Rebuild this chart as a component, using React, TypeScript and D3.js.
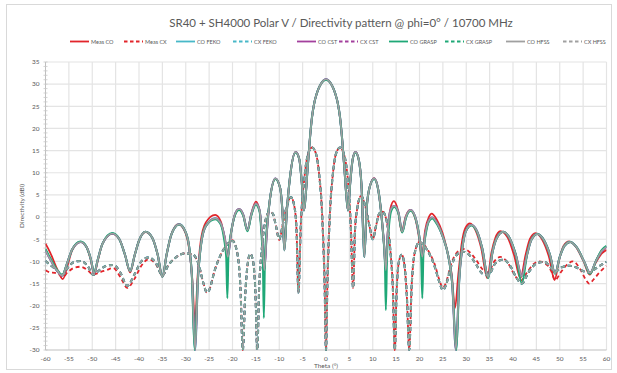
import React, { useEffect, useRef } from 'react';
import * as d3 from 'd3';

type Pt = [number, number];

// theta (deg), directivity (dBi)
const measCO: Pt[] = [
  [-60, -6], [-59, -8], [-57.6, -11.5], [-56.3, -14], [-55.3, -11], [-54.3, -7.5], [-52.5, -5.6], [-51.2, -6.8], [-50.3, -9.8],
  [-49.6, -13], [-48.8, -9.8], [-47.8, -6], [-45.7, -3.8], [-44.2, -5], [-43, -8.5], [-41.9, -12.5], [-40.9, -8.5], [-40, -5.3],
  [-38.6, -3.4], [-37.2, -4.6], [-36, -8.5], [-35, -13.5], [-34.1, -8.5], [-33.1, -4], [-31.6, -1.6], [-30.3, -3], [-29.3, -7],
  [-28.6, -14], [-28, -24], [-27.5, -14], [-26.8, -5.5], [-25.7, -1.2], [-23.7, 0.5], [-22.5, -1], [-21.7, -4.5], [-21, -8.5],
  [-20.3, -3.5], [-19.5, 0.5], [-18.6, 1.8], [-17.7, 0.5], [-16.8, -3], [-16, 0.7], [-15, 3.5], [-14.2, 1.5], [-13.7, -4],
  [-13.2, -12], [-12.7, -4], [-12, 4], [-10.8, 8.7], [-9.8, 6.5], [-9.3, 1], [-8.9, -7], [-8.4, 1], [-7.7, 9], [-6.5, 14.7],
  [-5.7, 13], [-5.2, 8], [-4.7, 1.5], [-4.3, 5.5], [-4, 10], [-3.5, 17], [-3, 22.5], [-2.5, 25.8], [-2, 27.8], [-1.5, 29.2],
  [-1, 30.2], [0, 31], [1, 30.2], [1.5, 29.2], [2, 27.8], [2.5, 25.8], [3, 22.5], [3.5, 17], [4, 10], [4.3, 5.5], [4.7, 1.5],
  [5.2, 8], [5.7, 13], [6.3, 14.7], [7, 13], [7.6, 7], [8.2, -8], [8.7, 2], [9.4, 7], [10.3, 8.8], [11.2, 6], [11.9, 0],
  [12.4, -6], [12.8, -12], [13.2, -3.5], [13.8, 2], [14.5, 3.6], [15.4, 1.5], [16.2, -3.3], [17, 0], [18, 1.6], [19, 0],
  [19.8, -4], [20.5, -9], [21.2, -3], [22, 0], [22.6, 0.8], [23.7, -0.6], [24.9, -3.5], [26, -8], [26.9, -13], [27.6, -20.5],
  [28.3, -13], [29.1, -5.5], [29.8, -2.5], [30.8, -1.4], [32, -3], [33.2, -7], [34.5, -13.8], [35.4, -8], [36.2, -4.8],
  [37.3, -3.2], [38.8, -4.5], [40.2, -8.5], [41.6, -13.8], [42.7, -8.5], [43.6, -5], [44.8, -3.6], [46.2, -5], [47.7, -9],
  [48.9, -14.2], [49.9, -9.5], [50.8, -6.5], [52, -5.5], [53.5, -6.8], [55.1, -10], [56.4, -13], [57.6, -10.5], [59, -8.2],
  [60, -7.4],
];

const coSim: Pt[] = [
  [-60, -7.5], [-59, -9.5], [-57.6, -12], [-56.4, -13.2], [-55.4, -10.5], [-54.3, -7.3], [-52.5, -5.6], [-51.2, -6.8], [-50.3, -9.5],
  [-49.6, -12.7], [-48.8, -9.5], [-47.8, -6], [-45.7, -3.7], [-44.2, -5], [-43, -8.5], [-41.9, -12.2], [-40.9, -8.5], [-40, -5.3],
  [-38.6, -3.3], [-37.2, -4.6], [-36, -8.5], [-35, -13.5], [-34.1, -8.5], [-33.1, -4], [-31.4, -1.6], [-30.2, -3], [-29.3, -6.5],
  [-28.7, -13], [-28, -30], [-27.4, -14], [-26.7, -6], [-25.7, -2], [-23.7, -0.3], [-22.5, -1.5], [-21.7, -4.5], [-21, -9],
  [-20.3, -3.5], [-19.5, 0.5], [-18.6, 1.8], [-17.7, 0.5], [-16.8, -3], [-16, 0.5], [-15, 3], [-14.2, 1.5], [-13.7, -4],
  [-13.2, -12], [-12.7, -4], [-12, 4], [-10.8, 8.7], [-9.8, 6.5], [-9.3, 1], [-8.9, -7.5], [-8.4, 1], [-7.7, 9], [-6.5, 14.7],
  [-5.7, 13], [-5.2, 8], [-4.7, 1.5], [-4.3, 5.5], [-4, 10], [-3.5, 17], [-3, 22.5], [-2.5, 25.8], [-2, 27.8], [-1.5, 29.2],
  [-1, 30.2], [0, 31.1], [1, 30.2], [1.5, 29.2], [2, 27.8], [2.5, 25.8], [3, 22.5], [3.5, 17], [4, 10], [4.3, 5.5], [4.7, 1.5],
  [5.2, 8], [5.7, 13], [6.3, 14.7], [7, 13], [7.6, 7], [8.2, -9], [8.7, 2], [9.4, 7], [10.3, 8.7], [11.2, 6], [11.9, 0],
  [12.4, -6], [12.8, -12], [13.2, -4], [13.8, 1.5], [14.6, 2.5], [15.5, 1], [16.3, -3.3], [17.1, 0], [18.1, 1.6], [19.1, 0],
  [19.9, -4], [20.6, -9], [21.3, -3.5], [22, -0.8], [22.7, -0.1], [23.8, -1.5], [25, -4.5], [26.2, -9], [27, -15], [27.8, -30],
  [28.5, -14], [29.3, -6], [30, -3], [31.1, -1.8], [32.3, -3.2], [33.4, -7], [34.7, -13.6], [35.6, -8], [36.5, -4.8],
  [37.9, -3.3], [39.3, -4.8], [40.6, -8.5], [41.9, -13.3], [43, -8.5], [43.9, -5.2], [45.2, -3.8], [46.6, -5.2], [47.9, -8.5],
  [49, -12.7], [50, -9], [51, -6.5], [52.2, -5.6], [53.6, -6.8], [55.2, -10], [56.5, -12.6], [57.7, -10], [59, -7.6], [60, -6.7],
];

const coGrasp: Pt[] = [
  [-60, -7.2], [-59, -9.2], [-57.6, -11.8], [-56.4, -13], [-55.4, -10.5], [-54.3, -7.3], [-52.5, -5.5], [-51.2, -6.8], [-50.3, -9.5],
  [-49.6, -12.5], [-48.8, -9.5], [-47.8, -6], [-45.7, -3.6], [-44.2, -5], [-43, -8.5], [-41.9, -12.2], [-40.9, -8.5], [-40, -5.3],
  [-38.6, -3.3], [-37.2, -4.6], [-36, -8.5], [-35, -13.5], [-34.1, -8.5], [-33.1, -4], [-31.4, -1.7], [-30.2, -3], [-29.3, -6.5],
  [-28.7, -13], [-28.1, -30], [-27.4, -14], [-26.7, -6], [-25.7, -2], [-23.7, -0.5], [-22.5, -1.7], [-21.8, -5], [-21.35, -9],
  [-21.1, -18.3], [-20.85, -8], [-20.3, -3.5], [-19.5, 0.3], [-18.6, 1.6], [-17.7, 0.3], [-16.8, -3.2], [-16, 0.3], [-15, 2.8],
  [-14.2, 1.2], [-13.8, -4], [-13.5, -10], [-13.3, -22.8], [-13.05, -9], [-12.7, -3], [-12, 4], [-10.8, 8.6], [-9.8, 6.5],
  [-9.3, 1], [-8.9, -7.5], [-8.4, 1], [-7.7, 9], [-6.5, 14.6], [-5.7, 13], [-5.2, 8], [-4.7, 1.5], [-4.3, 5.5], [-4, 10],
  [-3.5, 17], [-3, 22.5], [-2.5, 25.8], [-2, 27.8], [-1.5, 29.2], [-1, 30.2], [0, 31], [1, 30.2], [1.5, 29.2], [2, 27.8],
  [2.5, 25.8], [3, 22.5], [3.5, 17], [4, 10], [4.3, 5.5], [4.7, 1.5], [5.2, 8], [5.7, 13], [6.3, 14.6], [7, 13], [7.6, 7],
  [8.2, -9], [8.7, 2], [9.4, 7], [10.3, 8.6], [11.2, 6], [11.9, 0], [12.3, -5], [12.6, -10], [12.8, -21], [13.05, -9],
  [13.4, -3], [13.9, 1.2], [14.6, 2.3], [15.5, 0.8], [16.3, -3.5], [17.1, -0.2], [18.1, 1.4], [19.1, -0.2], [19.9, -4],
  [20.35, -9], [20.6, -18.3], [20.85, -8], [21.4, -3.5], [22, -1], [22.7, -0.3], [23.8, -1.7], [25, -4.5], [26.2, -9],
  [27, -15], [27.9, -30], [28.5, -14], [29.3, -6], [30, -3], [31.1, -1.9], [32.3, -3.3], [33.4, -7], [34.7, -13.8],
  [35.6, -8], [36.5, -4.8], [37.9, -3.3], [39.3, -4.8], [40.6, -8.5], [41.9, -15], [43, -8.5], [43.9, -5.2], [45.2, -3.8],
  [46.6, -5.2], [47.9, -8.5], [49, -12.8], [50, -9], [51, -6.5], [52.2, -5.6], [53.6, -6.8], [55.2, -10], [56.5, -12.8],
  [57.7, -10], [59, -7.4], [60, -6.5],
];

const measCX: Pt[] = [
  [-60, -12], [-59, -12.5], [-58, -12.6], [-57, -13], [-56.3, -13.5], [-55.3, -12.5], [-54, -11.5], [-52.5, -11.2], [-51, -12],
  [-49.8, -13], [-48.5, -12.5], [-47, -12], [-45.5, -11.5], [-44, -13.5], [-42.5, -16], [-41, -14], [-39.5, -11], [-37.9, -9.5],
  [-36.3, -10.8], [-35, -13.2], [-33.8, -11], [-32, -9], [-30.2, -8.2], [-28.5, -8.5], [-27.3, -10.5], [-26.2, -15],
  [-25.5, -17], [-25, -16.5], [-23.8, -12], [-22.5, -8.5], [-21, -6], [-20, -5.2], [-19, -8], [-18.3, -16], [-17.8, -30],
  [-17.3, -18], [-16.8, -11], [-16.2, -8.3], [-15.6, -10], [-15.1, -17], [-14.7, -30], [-14.3, -16], [-13.8, -8], [-13, -1],
  [-12.1, 1.2], [-11.4, 0.8], [-10.7, -2], [-10, -5.2], [-9.3, -2], [-8.5, 2], [-7.5, 4.5], [-6.7, 2], [-6.3, -3], [-5.9, -17],
  [-5.4, -2], [-4.7, 8], [-3.9, 14], [-3, 15.7], [-2.2, 14.5], [-1.5, 10], [-0.8, 0], [-0.3, -15], [0, -30], [0.3, -15],
  [0.8, 0], [1.5, 10], [2.2, 14.5], [3, 15.7], [3.9, 14], [4.7, 8], [5.3, -2], [5.8, -16], [6.2, -3], [6.7, 2], [7.5, 4.8],
  [8.5, 2], [9.3, -2], [10, -5], [10.7, -2], [11.4, 0.8], [12.1, 1.2], [13, -1], [13.8, -8], [14.3, -16], [14.7, -30],
  [15.1, -17], [15.6, -10], [16.2, -8.5], [16.8, -11], [17.3, -18], [17.8, -30], [18.3, -16], [19, -8], [20, -5.6], [21, -6.3],
  [22.2, -8.2], [23.2, -10.5], [24.2, -14], [25, -16], [25.6, -15], [26.8, -10.5], [28, -8], [29.5, -7.2], [30.8, -8],
  [32, -9.5], [33.5, -11.8], [34.7, -12.5], [36, -10], [37.3, -9], [38.8, -10.2], [40.3, -13], [41.5, -14.5], [43, -12.5],
  [44.5, -10.5], [45.5, -10], [47.5, -11], [48.3, -12.5], [49, -14.2], [50.2, -12.5], [51.5, -10.8], [52.8, -10], [54.5, -12],
  [55.5, -14], [56.3, -15], [57.3, -14], [58.5, -12.5], [60, -11],
];

const cxSim: Pt[] = [
  [-60, -9.9], [-59, -10.8], [-58, -11.6], [-57, -12.5], [-56.3, -13], [-55.3, -11.5], [-54, -10.2], [-52.5, -9.9], [-51, -11],
  [-49.8, -13], [-48.5, -12], [-47, -11], [-45.5, -10.8], [-44, -12.5], [-42.5, -15.5], [-41, -13], [-39.5, -10], [-37.9, -9.1],
  [-36.3, -10.5], [-35, -13.2], [-33.8, -11], [-32, -9], [-30.2, -8.2], [-28.5, -8.4], [-27.3, -10.5], [-26.2, -15],
  [-25.5, -17], [-25, -16.5], [-23.8, -12], [-22.5, -8.5], [-21, -6], [-20, -5.4], [-19, -8], [-18.3, -16], [-17.8, -30],
  [-17.3, -18], [-16.8, -11], [-16.2, -8.3], [-15.6, -10], [-15.1, -17], [-14.7, -30], [-14.3, -16], [-13.8, -8], [-13, -1],
  [-12.1, 1.2], [-11.4, 0.8], [-10.7, -2], [-10, -5], [-9.3, -2], [-8.5, 2], [-7.5, 4.5], [-6.7, 2], [-6.3, -3], [-5.9, -17],
  [-5.4, -2], [-4.7, 8], [-3.9, 14], [-3, 15.7], [-2.2, 14.5], [-1.5, 10], [-0.8, 0], [-0.3, -15], [0, -30], [0.3, -15],
  [0.8, 0], [1.5, 10], [2.2, 14.5], [3, 15.7], [3.9, 14], [4.7, 8], [5.3, -2], [5.8, -16], [6.2, -3], [6.7, 2], [7.5, 4.8],
  [8.5, 2], [9.3, -2], [10, -5], [10.7, -2], [11.4, 0.8], [12.1, 1.2], [13, -1], [13.8, -8], [14.3, -16], [14.7, -30],
  [15.1, -17], [15.6, -10], [16.2, -8.5], [16.8, -11], [17.3, -18], [17.8, -30], [18.3, -16], [19, -8], [20, -5.6], [21, -6.5],
  [22.2, -8.5], [23.2, -11], [24.2, -14.5], [25, -16.5], [25.6, -15.5], [26.8, -11], [28, -8.5], [29.2, -7.8], [30.6, -8.5],
  [32, -10.5], [33.5, -12.8], [34.7, -13.1], [36.2, -10.5], [37.9, -9.6], [39.4, -11], [40.8, -13.8], [41.9, -15], [43.3, -12.5],
  [45, -10.5], [46.7, -10.1], [48, -11.3], [49, -12.3], [50.5, -11.3], [52, -11], [53.8, -11.5], [55, -12.2], [56.3, -12.5],
  [57.8, -11.5], [60, -10.1],
];

const thetaTicks = d3.range(-60, 61, 5);
const dbTicks = d3.range(-30, 36, 5);
const dbMinorTicks = d3.range(-30, 36, 1);

const series = [
  { name: 'Meas CO', data: measCO, color: '#e2252b', dashed: false, width: 1.8 },
  { name: 'Meas CX', data: measCX, color: '#e2252b', dashed: true, width: 1.8 },
  { name: 'CO FEKO', data: coSim, color: '#48b8c8', dashed: false, width: 2.1 },
  { name: 'CX FEKO', data: cxSim, color: '#48b8c8', dashed: true, width: 2.1 },
  { name: 'CO CST', data: coSim, color: '#a3409d', dashed: false, width: 2 },
  { name: 'CX CST', data: cxSim, color: '#a3409d', dashed: true, width: 2 },
  { name: 'CO GRASP', data: coGrasp, color: '#1fa877', dashed: false, width: 2 },
  { name: 'CX GRASP', data: cxSim, color: '#1fa877', dashed: true, width: 2 },
  { name: 'CO HFSS', data: coSim, color: '#a0a0a0', dashed: false, width: 1.5 },
  { name: 'CX HFSS', data: cxSim, color: '#a0a0a0', dashed: true, width: 1.5 },
];

// legend entry start positions (px)
const legendX = [70, 124, 176, 233, 297, 339, 389, 445, 506, 563];

const DirectivityChart = () => {
  const svgRef = useRef(null);

  useEffect(() => {
    document.body.style.margin = '0';
    const width = 617;
    const height = 373;
    const margin = { top: 62, right: 10.5, bottom: 23, left: 45.5 };
    const font = 'Lato, "Open Sans", sans-serif';
    const textColor = '#595959';

    d3.select(svgRef.current).selectAll('*').remove();
    const svg = d3.select(svgRef.current)
      .attr('width', width)
      .attr('height', height)
      .style('display', 'block')
      .style('background', '#fff');

    // chart frame
    svg.append('rect')
      .attr('x', 6.5).attr('y', 4.5)
      .attr('width', 605).attr('height', 365)
      .attr('fill', '#fff')
      .attr('stroke', '#d9d9d9');

    const x = d3.scaleLinear().domain([-60, 60]).range([margin.left, width - margin.right]);
    const y = d3.scaleLinear().domain([-30, 35]).range([height - margin.bottom, margin.top]);

    // title
    svg.append('text')
      .attr('x', 341)
      .attr('y', 27)
      .attr('text-anchor', 'middle')
      .style('font-family', font)
      .style('font-size', '11.5px')
      .style('fill', textColor)
      .text('SR40 + SH4000 Polar V / Directivity pattern @ phi=0° / 10700 MHz');

    // gridlines
    svg.append('g')
      .selectAll('line')
      .data(thetaTicks.slice(1))
      .join('line')
      .attr('x1', d => x(d)).attr('x2', d => x(d))
      .attr('y1', y(35)).attr('y2', y(-30))
      .attr('stroke', '#e4e4e4')
      .attr('stroke-width', 1.2);

    svg.append('g')
      .selectAll('line')
      .data(dbTicks.slice(1))
      .join('line')
      .attr('x1', x(-60)).attr('x2', x(60))
      .attr('y1', d => y(d)).attr('y2', d => y(d))
      .attr('stroke', '#e4e4e4')
      .attr('stroke-width', 1.2);

    // y axis with minor ticks
    const yAxis = svg.append('g');
    yAxis.append('line')
      .attr('x1', x(-60)).attr('x2', x(-60))
      .attr('y1', y(35)).attr('y2', y(-30))
      .attr('stroke', '#bfbfbf');
    yAxis.selectAll('line.minor')
      .data(dbMinorTicks)
      .join('line')
      .attr('class', 'minor')
      .attr('x1', x(-60) - 2).attr('x2', x(-60) + 2)
      .attr('y1', d => y(d)).attr('y2', d => y(d))
      .attr('stroke', '#c8c8c8')
      .attr('stroke-width', 0.8);
    yAxis.selectAll('text')
      .data(dbTicks)
      .join('text')
      .attr('x', x(-60) - 6)
      .attr('y', d => y(d) + 2.3)
      .attr('text-anchor', 'end')
      .style('font-family', font)
      .style('font-size', '6.5px')
      .style('fill', textColor)
      .text(d => d.toString());

    // x axis
    const xAxis = svg.append('g');
    xAxis.append('line')
      .attr('x1', x(-60)).attr('x2', x(60))
      .attr('y1', y(-30)).attr('y2', y(-30))
      .attr('stroke', '#bfbfbf');
    xAxis.selectAll('text')
      .data(thetaTicks)
      .join('text')
      .attr('x', d => x(d))
      .attr('y', y(-30) + 10.5)
      .attr('text-anchor', 'middle')
      .style('font-family', font)
      .style('font-size', '6.5px')
      .style('fill', textColor)
      .text(d => d.toString());

    svg.append('text')
      .attr('x', x(0))
      .attr('y', 368)
      .attr('text-anchor', 'middle')
      .style('font-family', font)
      .style('font-size', '6.5px')
      .style('fill', textColor)
      .text('Theta (°)');

    svg.append('text')
      .attr('transform', `translate(24, ${(y(35) + y(-30)) / 2}) rotate(-90)`)
      .attr('text-anchor', 'middle')
      .style('font-family', font)
      .style('font-size', '6.5px')
      .style('fill', textColor)
      .text('Directivity (dBi)');

    // curves
    svg.append('clipPath')
      .attr('id', 'plot-clip')
      .append('rect')
      .attr('x', x(-60)).attr('y', y(35))
      .attr('width', x(60) - x(-60)).attr('height', y(-30) - y(35) + 1);

    const line = d3.line<Pt>()
      .x(d => x(d[0]))
      .y(d => y(d[1]))
      .curve(d3.curveMonotoneX);

    const plot = svg.append('g').attr('clip-path', 'url(#plot-clip)');
    series.forEach(s => {
      plot.append('path')
        .attr('d', line(s.data))
        .attr('fill', 'none')
        .attr('stroke', s.color)
        .attr('stroke-width', s.width)
        .attr('stroke-dasharray', s.dashed ? '4,3' : null)
        .attr('stroke-linejoin', 'round');
    });

    // legend
    const legend = svg.append('g');
    series.forEach((s, i) => {
      const g = legend.append('g').attr('transform', `translate(${legendX[i]}, 41.5)`);
      g.append('line')
        .attr('x1', 0).attr('x2', 19)
        .attr('y1', 0).attr('y2', 0)
        .attr('stroke', s.color)
        .attr('stroke-width', 1.8)
        .attr('stroke-dasharray', s.dashed ? '3.5,2.5' : null);
      g.append('text')
        .attr('x', 21)
        .attr('y', 2)
        .style('font-family', font)
        .style('font-size', '5.5px')
        .style('fill', textColor)
        .text(s.name);
    });
  }, []);

  return <svg ref={svgRef}></svg>;
};

export default function App() {
  return <DirectivityChart />;
}
